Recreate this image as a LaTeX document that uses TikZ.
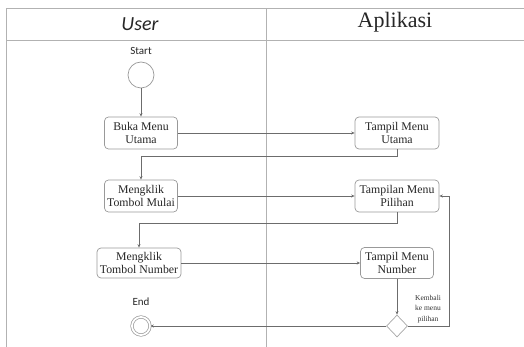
\documentclass[tikz,border=0pt]{standalone}
\usepackage{fontspec}
\setmainfont{Liberation Serif}
\newfontfamily\calfont{Carlito}
\usetikzlibrary{shapes.geometric,arrows.meta}
\begin{document}
\begin{tikzpicture}[x=1pt,y=-1pt,
  lane/.style={draw=gray!60,line width=1pt},
  act/.style={draw=gray!80,line width=0.7pt,rounded corners=4pt,align=center,
     font=\fontsize{11.8}{13.5}\selectfont,inner sep=1pt,text=black!85},
  flow/.style={draw=gray!85!black,line width=0.6pt,-{Stealth[length=3.5pt,width=3pt]}},
  lbl/.style={font=\calfont\fontsize{11}{13}\selectfont,text=black!85}]
\useasboundingbox (0,0) rectangle (524,347);
% swimlane frame
\draw[lane] (6,347) -- (6,9) -- (524,9);
\draw[lane] (6,41) -- (524,41);
\draw[lane] (266,9) -- (266,347);
\node[font=\calfont\itshape\fontsize{20}{22}\selectfont,text=black!85] (hu) at (140,24) {User};
\node[font=\fontsize{22}{24}\selectfont,text=black!85] (ha) at (395,22) {Aplikasi};
% nodes
\node[lbl] (ls) at (141,51) {Start};
\node[circle,draw=gray!80,line width=0.7pt,minimum size=26pt,inner sep=0] (start) at (141,75) {};
\node[act,minimum width=73pt,minimum height=32pt] (buka) at (141,133) {Buka Menu\\Utama};
\node[act,minimum width=84pt,minimum height=32pt] (tu) at (397,133) {Tampil Menu\\Utama};
\node[act,minimum width=73pt,minimum height=32pt] (mulai) at (141,196) {Mengklik\\Tombol Mulai};
\node[act,minimum width=84pt,minimum height=32pt] (pil) at (397,196) {Tampilan Menu\\Pilihan};
\node[act,minimum width=84pt,minimum height=30pt] (num) at (139,263) {Mengklik\\Tombol Number};
\node[act,minimum width=73pt,minimum height=31pt] (tnum) at (397,263) {Tampil Menu\\Number};
\node[diamond,draw=gray!70,line width=0.7pt,minimum width=21pt,minimum height=22pt,inner sep=0] (dec) at (397,326) {};
\node[lbl] (le) at (141,302) {End};
\node[circle,draw=gray!80,line width=0.7pt,double,double distance=1.8pt,minimum size=18pt,inner sep=0] (end) at (141,326) {};
\node[align=center,font=\fontsize{7.5}{10.5}\selectfont,text=black!80] (kl) at (428,309) {Kembali\\ke menu\\pilihan};
% connectors
\draw[flow] (start) -- (buka);
\draw[flow] (buka) -- (tu);
\draw[flow] (tu.south) -- ++(0,7) -| (mulai.north);
\draw[flow] (mulai) -- (pil);
\draw[flow] (pil.south) -- ++(0,11) -| (num.north);
\draw[flow] (num) -- (tnum);
\draw[flow] (tnum) -- (dec);
\draw[flow] (dec) -- (end);
\draw[flow] (dec.east) -- ++(41,0) |- (pil.east);
\end{tikzpicture}
\end{document}
